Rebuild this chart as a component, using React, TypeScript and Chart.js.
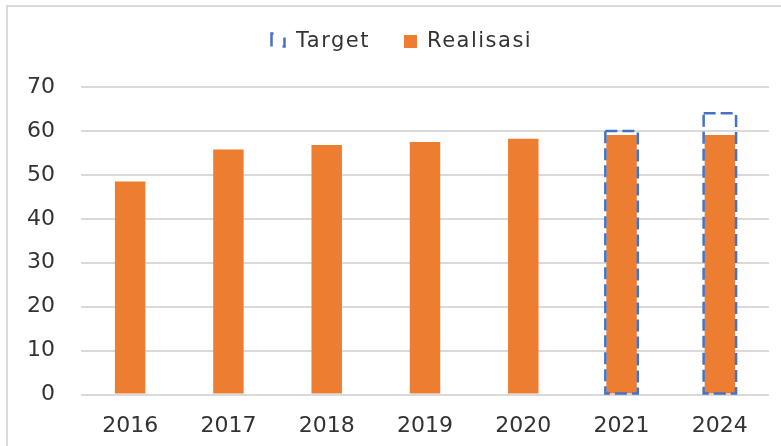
import React, { useEffect, useRef } from "react";
import { Chart, registerables } from "chart.js";

Chart.register(...registerables);

const categories = ["2016", "2017", "2018", "2019", "2020", "2021", "2024"];
const realisasi = [48.5, 55.8, 56.8, 57.5, 58.2, 59.1, 59.1];
const target: (number | null)[] = [null, null, null, null, null, 60, 64];
const yTicks = [0, 10, 20, 30, 40, 50, 60, 70];

const ORANGE = "#ed7d31";
const BLUE = "#4472c4";
const GRID = "#d9d9d9";
const TEXT = "#333333";
const FONT = "'DejaVu Sans', sans-serif";

const frameAndDash = {
  id: "frameAndDash",
  beforeDraw(chart: any) {
    const ctx = chart.ctx;
    ctx.save();
    ctx.fillStyle = GRID;
    ctx.fillRect(6, 5, chart.width - 6, 2);
    ctx.fillRect(6, 5, 2, chart.height - 5);
    ctx.restore();
  },
  afterDatasetsDraw(chart: any) {
    const meta = chart.getDatasetMeta(0);
    const ctx = chart.ctx;
    ctx.save();
    ctx.strokeStyle = BLUE;
    ctx.lineWidth = 2.5;
    ctx.setLineDash([12, 5]);
    meta.data.forEach((el: any, i: number) => {
      if (target[i] == null) return;
      const p = el.getProps(["x", "y", "base", "width"], true);
      ctx.beginPath();
      ctx.rect(p.x - p.width / 2, p.y, p.width, p.base - p.y);
      ctx.stroke();
    });
    ctx.restore();
  },
};

function Legend() {
  const text: React.CSSProperties = {
    position: "absolute",
    top: 29.5,
    fontFamily: FONT,
    fontSize: 21,
    lineHeight: "21px",
    letterSpacing: "1.5px",
    color: TEXT,
    whiteSpace: "nowrap",
  };
  return (
    <>
      <svg
        width={17}
        height={17}
        style={{ position: "absolute", left: 270, top: 32 }}
      >
        <rect
          x={1.5}
          y={1.5}
          width={13}
          height={13}
          fill="none"
          stroke={BLUE}
          strokeWidth={2.5}
          strokeDasharray="2 15 11 11 13"
        />
      </svg>
      <span style={{ ...text, left: 296 }}>Target</span>
      <div
        style={{
          position: "absolute",
          left: 404,
          top: 35,
          width: 13,
          height: 13,
          background: ORANGE,
        }}
      />
      <span style={{ ...text, left: 427 }}>Realisasi</span>
    </>
  );
}

export default function App() {
  const ref = useRef<HTMLCanvasElement | null>(null);

  useEffect(() => {
    if (!ref.current) return;
    const chart = new Chart(ref.current, {
      type: "bar",
      data: {
        labels: categories,
        datasets: [
          {
            label: "Target",
            data: target,
            backgroundColor: "rgba(0,0,0,0)",
            borderWidth: 0,
            grouped: false,
            barPercentage: 0.33,
            categoryPercentage: 1,
            order: 2,
          } as any,
          {
            label: "Realisasi",
            data: realisasi,
            backgroundColor: ORANGE,
            borderWidth: 0,
            grouped: false,
            barPercentage: 0.31,
            categoryPercentage: 1,
            order: 1,
          } as any,
        ],
      },
      options: {
        responsive: false,
        animation: false,
        devicePixelRatio: 1,
        layout: { padding: { left: 1, right: 12, top: 87, bottom: -12 } },
        plugins: {
          legend: { display: false },
          tooltip: { enabled: false },
        },
        scales: {
          x: {
            grid: { display: false, drawTicks: false },
            border: { display: false },
            ticks: {
              color: TEXT,
              font: { family: FONT, size: 22 },
              padding: 18.5,
              maxRotation: 0,
            },
          },
          y: {
            min: 0,
            max: 70,
            afterBuildTicks: (axis: any) => {
              axis.ticks = yTicks.map((v) => ({ value: v }));
            },
            grid: { color: GRID, lineWidth: 2, drawTicks: false },
            border: { display: false },
            ticks: {
              color: TEXT,
              font: { family: FONT, size: 22 },
              padding: 26,
            },
          },
        },
      },
      plugins: [frameAndDash],
    });
    return () => chart.destroy();
  }, []);

  return (
    <div
      style={{
        position: "absolute",
        left: 0,
        top: 0,
        width: 781,
        height: 446,
        background: "#fff",
      }}
    >
      <canvas ref={ref} width={781} height={446} style={{ display: "block" }} />
      <Legend />
    </div>
  );
}
